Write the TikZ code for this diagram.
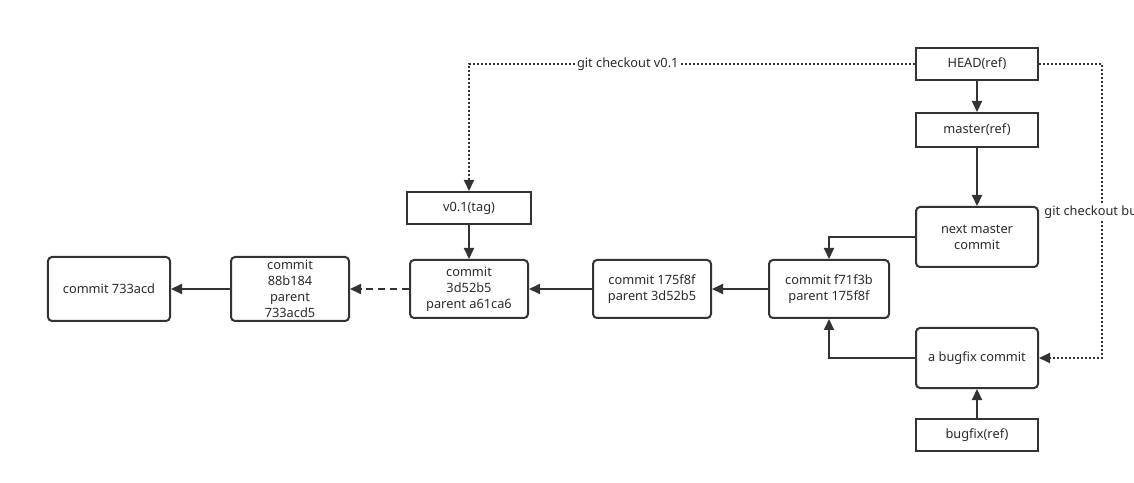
\documentclass[tikz,border=0pt]{standalone}
\usepackage{fontspec}
\setmainfont{Noto Sans}
\usetikzlibrary{arrows.meta}
\definecolor{ln}{HTML}{333333}
\definecolor{txt}{HTML}{2B2B2B}
\begin{document}
\begin{tikzpicture}[x=1bp,y=-1bp,
  box/.style={draw=ln, line width=2bp, inner sep=0pt, align=center,
    font=\fontsize{12.8bp}{16bp}\selectfont, text=txt},
  rbox/.style={box, rounded corners=4bp},
  conn/.style={draw=ln, line width=2bp, -{Triangle[length=11bp,width=10bp]}},
  dashc/.style={conn, dash pattern=on 7bp off 5bp},
  dotc/.style={conn, dash pattern=on 2bp off 2bp},
  lbl/.style={fill=white, inner sep=1bp, font=\fontsize{12.8bp}{14bp}\selectfont, text=txt}]
\useasboundingbox (0,0) rectangle (1134,483);
\clip (0,0) rectangle (1134,483);
\fill[white] (0,0) rectangle (1134,483);

\node[rbox, minimum width=122bp, minimum height=64bp] (c733) at (109,289) {commit 733acd};
\node[rbox, minimum width=118bp, minimum height=64bp] (c88b) at (290,289) {commit\\88b184\\parent\\733acd5};
\node[rbox, minimum width=118bp, minimum height=58bp] (c3d5) at (469,289) {commit\\3d52b5\\parent a61ca6};
\node[box, minimum width=124bp, minimum height=32bp] (tag) at (469,208) {v0.1(tag)};
\node[rbox, minimum width=118bp, minimum height=58bp] (c175) at (652,289) {commit 175f8f\\parent 3d52b5};
\node[rbox, minimum width=120bp, minimum height=58bp] (cf71) at (829,289) {commit f71f3b\\parent 175f8f};
\node[rbox, minimum width=122bp, minimum height=60bp] (next) at (977,237) {next master\\commit};
\node[box, minimum width=122bp, minimum height=32bp] (head) at (977,64) {HEAD(ref)};
\node[box, minimum width=122bp, minimum height=34bp] (master) at (977,130) {master(ref)};
\node[rbox, minimum width=122bp, minimum height=60bp] (bug) at (977,358) {a bugfix commit};
\node[box, minimum width=122bp, minimum height=32bp] (bugref) at (977,435) {bugfix(ref)};

\draw[conn] (c88b.west) -- (c733.east);
\draw[dashc] (c3d5.west) -- (c88b.east);
\draw[conn] (c175.west) -- (c3d5.east);
\draw[conn] (cf71.west) -- (c175.east);
\draw[conn] (tag.south) -- (c3d5.north);
\draw[conn] (head.south) -- (master.north);
\draw[conn] (master.south) -- (next.north);
\draw[conn] (next.west) -| (cf71.north);
\draw[conn] (bug.west) -| (cf71.south);
\draw[conn] (bugref.north) -- (bug.south);

\coordinate (tl) at (469,64);
\coordinate (tr) at (1102,64);
\coordinate (br) at (1102,358);
\draw[dotc] (head.west) -- node[lbl, pos=0.644] {git checkout v0.1} (tl) -- (tag.north);
\draw[dotc] (head.east) -- (tr) -- node[lbl, pos=0.503] {git checkout bugfix} (br) -- (bug.east);
\end{tikzpicture}
\end{document}
